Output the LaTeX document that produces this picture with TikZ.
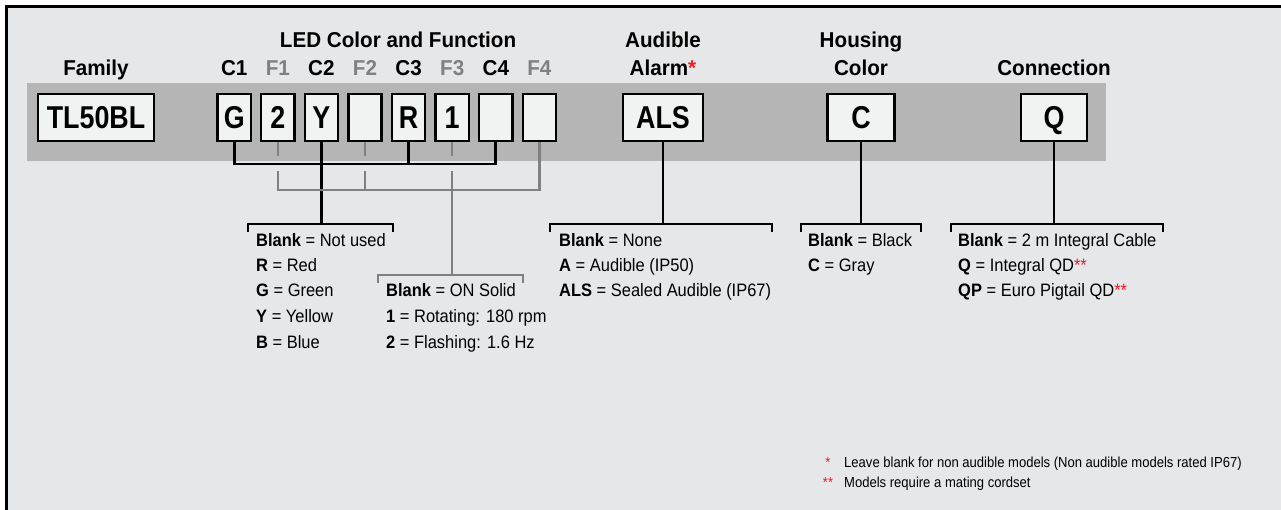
\documentclass[tikz,border=0pt]{standalone}
\usepackage{fontspec}
\setmainfont{Liberation Sans}
\newfontfamily\hdrfont[FakeStretch=0.96]{Liberation Sans}
\newfontfamily\boxfont[FakeStretch=0.85]{Liberation Sans}
\newfontfamily\bodyfont[FakeStretch=0.915]{Liberation Sans}
\newfontfamily\notefont[FakeStretch=0.9]{Liberation Sans}
\definecolor{bgc}{HTML}{E6E7E8}
\definecolor{bandc}{HTML}{B5B5B5}
\definecolor{boxc}{HTML}{F1F2F2}
\definecolor{grayln}{HTML}{808080}
\definecolor{redc}{HTML}{ED1C24}
\tikzset{
  codebox/.style={draw, line width=2.3pt, fill=boxc, minimum height=46.7pt, inner sep=0pt,
    text height=22.6pt, text depth=0pt,
    font=\boxfont\bfseries\fontsize{31.6}{31.6}\selectfont},
  hdr/.style={font=\hdrfont\bfseries\fontsize{21.5}{21.5}\selectfont, anchor=base, inner sep=0pt},
  fhdr/.style={hdr, text=grayln},
  body/.style={font=\bodyfont\fontsize{18}{18}\selectfont, anchor=base west, inner sep=0pt},
  note/.style={font=\notefont\fontsize{14.5}{14.5}\selectfont, anchor=base west, inner sep=0pt},
  blk/.style={draw=black, line width=2.8pt, line cap=butt, line join=miter},
  gry/.style={draw=grayln, line width=2.5pt, line cap=butt, line join=miter},
}
\begin{document}
\begin{tikzpicture}[x=1pt,y=-1pt]
\useasboundingbox (0,0) rectangle (1281,510);
\fill[white] (0,0) rectangle (1281,510);
\fill[bgc] (6.5,6.5) rectangle (1281,510);
\draw[line width=3pt, line join=miter] (6.5,510) -- (6.5,6.5) -- (1281,6.5);
\fill[bandc] (27,83) rectangle (1106,161);

% reference rows
\coordinate (hb) at (0,76);
\coordinate (hb2) at (0,48);
\coordinate (busy) at (0,164);
\coordinate (gapA) at (0,156);
\coordinate (gapB) at (0,171);
\coordinate (gbus) at (0,190);
\coordinate (brA) at (0,224);
\coordinate (brB) at (0,275);

% code boxes
\node[codebox, minimum width=115.7pt] (fam) at (96,117.5) {TL50BL};
\foreach \n/\t [count=\i from 0] in {c1/G,f1/2,c2/Y,f2/,c3/R,f3/1,c4/,f4/}
  \node[codebox, minimum width=33.2pt] (\n) at ({234.2+43.6*\i},117.5) {\t};
\node[codebox, minimum width=80pt] (als) at (663,117.5) {ALS};
\node[codebox, minimum width=67pt] (hc) at (861,117.5) {C};
\node[codebox, minimum width=66.5pt] (cq) at (1054,117.5) {Q};

% headers
\node[hdr] (hfam) at (fam |- hb) {Family};
\node[hdr] (hled) at (398,48) {LED Color and Function};
\node[hdr] (hc1) at (c1 |- hb) {C1};
\node[fhdr] (hf1) at (f1 |- hb) {F1};
\node[hdr] (hc2) at (c2 |- hb) {C2};
\node[fhdr] (hf2) at (f2 |- hb) {F2};
\node[hdr] (hc3) at (c3 |- hb) {C3};
\node[fhdr] (hf3) at (f3 |- hb) {F3};
\node[hdr] (hc4) at (c4 |- hb) {C4};
\node[fhdr] (hf4) at (f4 |- hb) {F4};
\node[hdr] (haud) at (als |- hb2) {Audible};
\node[hdr] (halm) at (als |- hb) {Alarm\textcolor{redc}{*}};
\node[hdr] (hhou) at (hc |- hb2) {Housing};
\node[hdr] (hcol) at (hc |- hb) {Color};
\node[hdr] (hcon) at (cq |- hb) {Connection};

% colour connectors (black)
\draw[blk] (c1.south) -- (c1 |- busy) -- (c4 |- busy) -- (c4.south);
\draw[blk] (c3.south) -- (c3 |- busy);
\draw[blk] (c2.south) -- (c2 |- brA);
% function connectors (gray)
\draw[gry] (f1.south) -- (f1 |- gapA);
\draw[gry] (f2.south) -- (f2 |- gapA);
\draw[gry] (f3.south) -- (f3 |- gapA);
\draw[gry] (f1 |- gapB) -- (f1 |- gbus) -- (f4 |- gbus) -- (f4.south);
\draw[gry] (f2 |- gapB) -- (f2 |- gbus);
\draw[gry] (f3 |- gapB) -- (f3 |- brB);
% other connectors
\draw[blk] (als.south) -- (als |- brA);
\draw[blk] (hc.south) -- (hc |- brA);
\draw[blk] (cq.south) -- (cq |- brA);

% brackets
\coordinate (b1l) at (248,224); \coordinate (b1r) at (393,224);
\coordinate (b2l) at (378,275); \coordinate (b2r) at (523,275);
\coordinate (b3l) at (550,224); \coordinate (b3r) at (772,224);
\coordinate (b4l) at (801,224); \coordinate (b4r) at (921,224);
\coordinate (b5l) at (951,224); \coordinate (b5r) at (1163,224);
\draw[blk] (b1l) ++(0,8) -- (b1l) -- (b1r) -- ++(0,8);
\draw[gry] (b2l) ++(0,8) -- (b2l) -- (b2r) -- ++(0,8);
\draw[blk] (b3l) ++(0,8) -- (b3l) -- (b3r) -- ++(0,8);
\draw[blk] (b4l) ++(0,8) -- (b4l) -- (b4r) -- ++(0,8);
\draw[blk] (b5l) ++(0,8) -- (b5l) -- (b5r) -- ++(0,8);

% legend texts
\node[body] (ca) at (256,247) {\textbf{Blank} = Not used};
\node[body] (cb) at (256,272) {\textbf{R} = Red};
\node[body] (cc) at (256,297) {\textbf{G} = Green};
\node[body] (cd) at (256,323) {\textbf{Y} = Yellow};
\node[body] (ce) at (256,348) {\textbf{B} = Blue};
\node[body] (fa) at (386,297) {\textbf{Blank} = ON Solid};
\node[body] (fb) at (386,323) {\textbf{1} = Rotating: 180 rpm};
\node[body] (fc) at (386,348) {\textbf{2} = Flashing: 1.6 Hz};
\node[body] (aa) at (559,247) {\textbf{Blank} = None};
\node[body] (ab) at (559,272) {\textbf{A} = Audible (IP50)};
\node[body] (ac) at (559,297) {\textbf{ALS} = Sealed Audible (IP67)};
\node[body] (ha) at (808,247) {\textbf{Blank} = Black};
\node[body] (hb1) at (808,272) {\textbf{C} = Gray};
\node[body] (qa) at (958,247) {\textbf{Blank} = 2 m Integral Cable};
\node[body] (qb) at (958,272) {\textbf{Q} = Integral QD\textcolor{redc}{**}};
\node[body] (qc) at (958,297) {\textbf{QP} = Euro Pigtail QD\textcolor{redc}{**}};

% footnotes
\node[note, anchor=base, text=redc] (s1) at (828,467) {*};
\node[note] (t1) at (844,467) {Leave blank for non audible models (Non audible models rated IP67)};
\node[note, anchor=base, text=redc] (s2) at (828,487) {**};
\node[note] (t2) at (844,487) {Models require a mating cordset};
\end{tikzpicture}
\end{document}
